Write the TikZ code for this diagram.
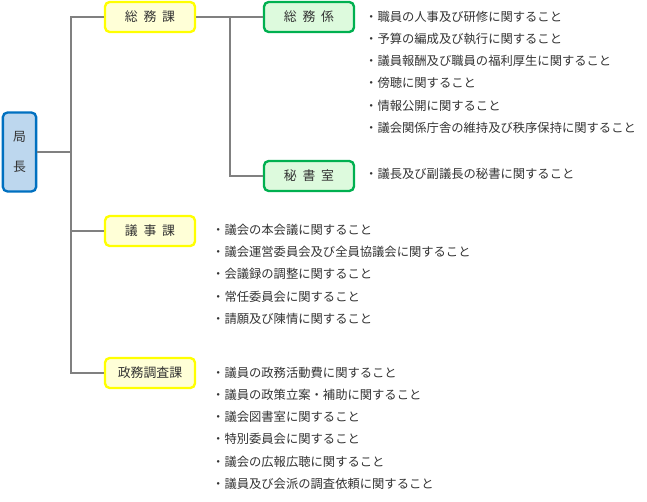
\documentclass[tikz,border=0pt]{standalone}
\usepackage{fontspec}
\setmainfont{Noto Sans CJK JP}
\usetikzlibrary{positioning}

\definecolor{kyokufill}{HTML}{BDD7EE}
\definecolor{kyokuline}{HTML}{0070C0}
\definecolor{kafill}{HTML}{FFFFD7}
\definecolor{kaline}{HTML}{FFFF00}
\definecolor{kakarifill}{HTML}{DDFADD}
\definecolor{kakariline}{HTML}{00B050}
\definecolor{textgray}{HTML}{333333}

\begin{document}
\begin{tikzpicture}[
          x=0.03cm, y=-0.03cm,
          box/.style={draw, rounded corners=4pt, line width=2pt, inner sep=0pt,
                      text=textgray, font=\fontsize{11}{13}\selectfont},
          kyokubox/.style={box, draw=kyokuline, fill=kyokufill, minimum width=1.0cm, minimum height=2.37cm, align=center,
                      font=\fontsize{11}{25}\selectfont},
          kabox/.style={box, draw=kaline, fill=kafill, minimum width=2.7cm, minimum height=0.9cm},
          kakaribox/.style={box, draw=kakariline, fill=kakarifill, minimum width=2.7cm, minimum height=0.9cm},
          duty/.style={anchor=base west, inner sep=0pt, align=left, text=textgray,
                      font=\fontsize{10.5}{19}\selectfont},
          link/.style={draw=black!50, line width=0.9pt}
        ]
          \useasboundingbox (0,0) rectangle (647,501);

          % boxes
          \node[kyokubox] (kyoku) at (19.5,152) {局\\長};
          \node[kabox] (somuka) at (150,17) {総\hspace{0.45em}務\hspace{0.45em}課};
          \node[kabox] (gijika) at (150,231) {議\hspace{0.45em}事\hspace{0.45em}課};
          \node[kabox] (seimuka) at (150,373) {政務調査課};
          \node[kakaribox] (somukakari) at (309,17) {総\hspace{0.45em}務\hspace{0.45em}係};
          \node[kakaribox] (hisho) at (309,176) {秘\hspace{0.45em}書\hspace{0.45em}室};

          % lines
          \coordinate (trunk) at (71,152);
          \coordinate (branch) at (230,17);
          \draw[link] (kyoku.east) -- (trunk);
          \draw[link] (somuka.west) -| (trunk) |- (seimuka.west);
          \draw[link] (gijika.west) -- (gijika.west -| trunk);
          \draw[link] (somuka.east) -- (somukakari.west);
          \draw[link] (branch) |- (hisho.west);

          % duties (placed by the baseline of the last line)
          \node[duty] (somulist) at (365,132.5) {・職員の人事及び研修に関すること\\
            ・予算の編成及び執行に関すること\\
            ・議員報酬及び職員の福利厚生に関すること\\
            ・傍聴に関すること\\
            ・情報公開に関すること\\
            ・議会関係庁舎の維持及び秩序保持に関すること};
          \node[duty] (hisholist) at (365,178.5) {・議長及び副議長の秘書に関すること};
          \node[duty] (gijilist) at (212,323.5) {・議会の本会議に関すること\\
            ・議会運営委員会及び全員協議会に関すること\\
            ・会議録の調整に関すること\\
            ・常任委員会に関すること\\
            ・請願及び陳情に関すること};
          \node[duty] (seimulist) at (212,488.5) {・議員の政務活動費に関すること\\
            ・議員の政策立案・補助に関すること\\
            ・議会図書室に関すること\\
            ・特別委員会に関すること\\
            ・議会の広報広聴に関すること\\
            ・議員及び会派の調査依頼に関すること};
\end{tikzpicture}
\end{document}
